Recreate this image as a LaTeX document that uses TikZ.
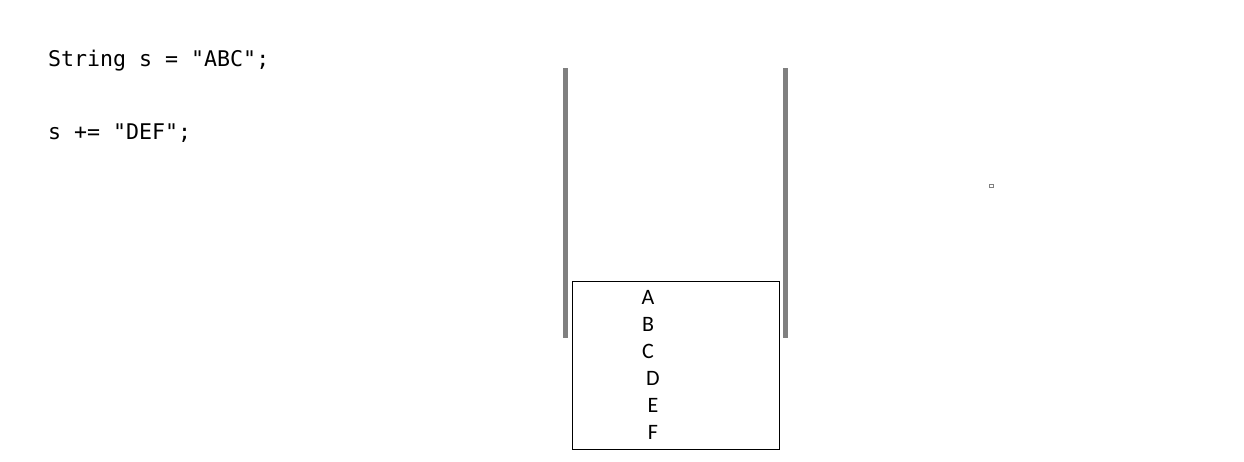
\documentclass[tikz,border=0pt]{standalone}
\usepackage{fontspec}
\setmonofont{DejaVu Sans Mono}
\newfontfamily\calib{Carlito}
\begin{document}
\begin{tikzpicture}[x=1pt,y=-1pt,
  code/.style={anchor=base west,inner sep=0pt,font=\ttfamily\fontsize{21.6}{24}\selectfont},
  letter/.style={anchor=base,inner sep=0pt,font=\calib\fontsize{22}{24}\selectfont},
  bar/.style={draw=none,fill=gray}]
\useasboundingbox (0,0) rectangle (1244,462);
\node[code] (l1) at (48,67) {String s = "ABC";};
\node[code] (l2) at (48,140) {s += "DEF";};
\fill[bar] (563,68) rectangle (567.5,338);
\fill[bar] (783,68) rectangle (787.5,338);
\node[draw=black,line width=1pt,minimum width=207pt,minimum height=168pt,inner sep=0pt] (box) at (675.5,365) {};
\node[letter] (a) at (648,304) {A};
\node[letter] (b) at (648,331) {B};
\node[letter] (c) at (648,358) {C};
\node[letter] (d) at (653,385) {D};
\node[letter] (e) at (653,412) {E};
\node[letter] (f) at (653,439) {F};
\node[draw=gray,line width=0.8pt,minimum size=3.5pt,inner sep=0pt] (sq) at (991.5,186) {};
\end{tikzpicture}
\end{document}
